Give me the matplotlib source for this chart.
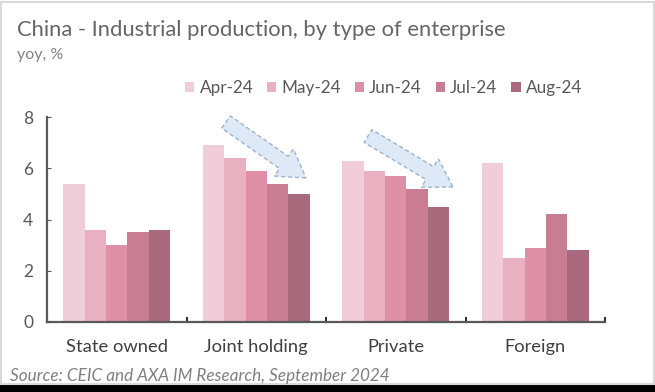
import matplotlib
matplotlib.use("Agg")
import matplotlib.pyplot as plt
from matplotlib.patches import FancyArrow, Rectangle
import numpy as np

categories = ["State owned", "Joint holding", "Private", "Foreign"]
series_names = ["Apr-24", "May-24", "Jun-24", "Jul-24", "Aug-24"]
apr = [5.4, 6.9, 6.3, 6.2]
may = [3.6, 6.4, 5.9, 2.5]
jun = [3.0, 5.9, 5.7, 2.9]
jul = [3.5, 5.4, 5.2, 4.2]
aug = [3.6, 5.0, 4.5, 2.8]
yticks = [0, 2, 4, 6, 8]
colors = ["#f0cdd8", "#e8b0c0", "#df90a6", "#c97d93", "#a96a7d"]

plt.rcParams['font.family'] = ['Lato', 'DejaVu Sans']
W, H = 655, 392
fig = plt.figure(figsize=(W / 100, H / 100), dpi=100)
fig.patch.set_facecolor("white")

ax = fig.add_axes([47 / W, 1 - 322 / H, (605 - 47) / W, (322 - 117) / H])
data = [apr, may, jun, jul, aug]
x = np.arange(len(categories))
n = len(series_names)
group = 0.77
bw = group / n
for i, (vals, name, c) in enumerate(zip(data, series_names, colors)):
    ax.bar(x - group / 2 + bw * (i + 0.5), vals, bw, color=c, label=name, linewidth=0)

ax.set_xlim(-0.5, len(categories) - 0.5)
ax.set_ylim(0, 8)
ax.set_yticks(yticks)
ax.set_yticklabels([str(v) for v in yticks])
ax.set_xticks(x)
ax.set_xticklabels(categories)
ax.tick_params(axis='x', length=0, labelsize=13.2, labelcolor="#404040", pad=12)
ax.tick_params(axis='y', direction='in', length=3, color="#595959",
               labelsize=12.5, labelcolor="#595959", pad=10)
for s in ["top", "right"]:
    ax.spines[s].set_visible(False)
for s in ["left", "bottom"]:
    ax.spines[s].set_color("#595959")
    ax.spines[s].set_linewidth(1.6)
# category boundary ticks on x axis
for b in np.arange(-0.5, len(categories), 1.0):
    ax.plot([b, b], [0, 0.15], color="#303030", lw=1.5, clip_on=False)

ax.legend(loc="center left", bbox_to_anchor=(185 / W, 1 - 88 / H),
          bbox_transform=fig.transFigure, ncol=5, frameon=False,
          fontsize=12.3, handlelength=0.55, handleheight=0.55, handletextpad=0.3,
          columnspacing=0.8, labelcolor="#595959", borderpad=0, borderaxespad=0)

fig.text(17 / W, 1 - 30 / H, "China - Industrial production, by type of enterprise",
         fontsize=15.8, color="#666666", va="center", ha="left")
fig.text(17 / W, 1 - 55 / H, "yoy, %", fontsize=11.5, color="#808080",
         va="center", ha="left")
fig.text(10 / W, 1 - 376 / H, "Source: CEIC and AXA IM Research, September 2024",
         fontsize=12.3, color="#808080", style="italic", va="center", ha="left")

# trend arrows
def arrow(x0, y0, x1, y1):
    dx, dy = (x1 - x0) / 100, -(y1 - y0) / 100
    a = FancyArrow(x0 / 100, (H - y0) / 100, dx, dy, width=0.15,
                   head_width=0.33, head_length=0.27, length_includes_head=True,
                   transform=fig.dpi_scale_trans, facecolor="#dde9f6",
                   edgecolor="#9fb3c8", linestyle=(0, (3, 2)), linewidth=1.0)
    fig.add_artist(a)

arrow(226, 122, 306, 178)
arrow(368, 136, 453, 187)

# frame
fig.add_artist(Rectangle((0, 0), 1, 8 / H, transform=fig.transFigure,
                         facecolor="black", edgecolor="none"))
fig.add_artist(Rectangle((1 / W, 8 / H), 1 - 2 / W, 1 - 9.5 / H,
                         transform=fig.transFigure, facecolor="none",
                         edgecolor="#d9d9d9", linewidth=1.5))

fig.savefig("out.png", dpi=100)
